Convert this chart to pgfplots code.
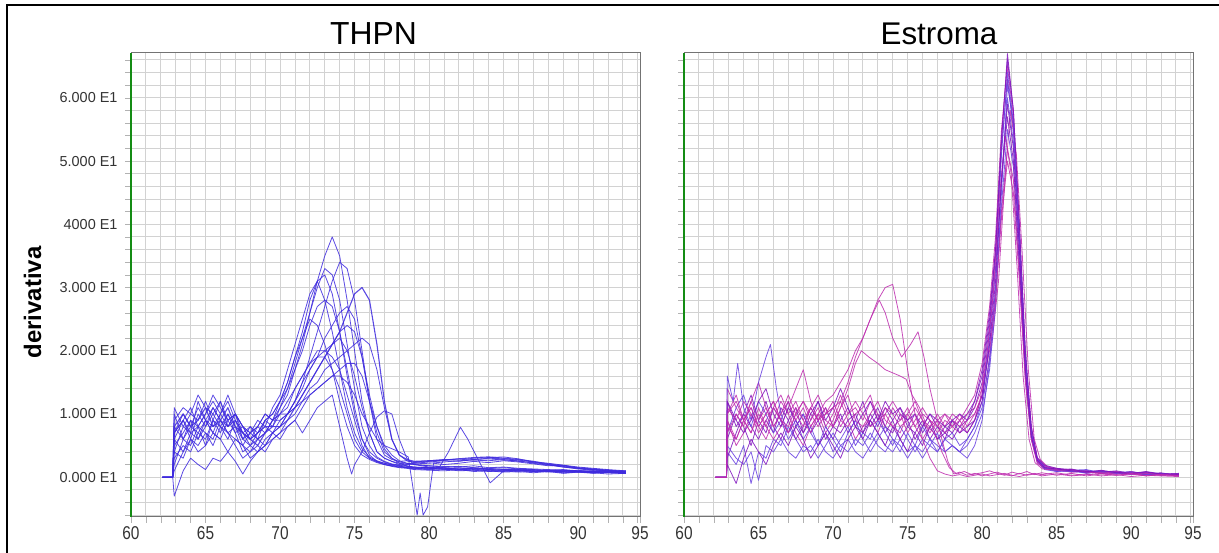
\documentclass[border=0pt]{standalone}
\usepackage{fontspec}
\setmainfont{Liberation Sans}
\usepackage{pgfplots}
\pgfplotsset{compat=1.18}
\definecolor{thpn}{RGB}{62,42,222}
\definecolor{purp}{RGB}{128,20,190}
\definecolor{mag}{RGB}{190,45,175}
\definecolor{bviol}{RGB}{105,65,225}
\definecolor{gridc}{RGB}{210,210,210}
\definecolor{axc}{RGB}{115,115,115}
\definecolor{greenax}{RGB}{20,140,20}
\pgfplotsset{
  meltaxis/.style={
    scale only axis, width=509bp, height=464bp,
    xmin=60, xmax=94.15, ymin=-6.3, ymax=67.1, clip=false,
    xtick={60,65,70,75,80,85,90,94.15},
    xticklabels={\scalebox{1}[1.2]{60},\scalebox{1}[1.2]{65},\scalebox{1}[1.2]{70},\scalebox{1}[1.2]{75},\scalebox{1}[1.2]{80},\scalebox{1}[1.2]{85},\scalebox{1}[1.2]{90},\scalebox{1}[1.2]{95}},
    minor xtick={61,62,...,94},
    ytick={0,10,...,60},
    minor ytick={-6,-4,...,66},
    grid=both,
    major grid style={draw=gridc, line width=0.9bp},
    minor grid style={draw=gridc, line width=0.9bp},
    axis line style={draw=axc, line width=1bp},
    tick pos=left, tick align=outside,
    major tick length=6bp, minor tick length=6bp,
    tick style={draw=black!30, line width=0.6bp},
    xticklabel style={font=\fontsize{15.5}{17}\selectfont, text=black!80},
    yticklabel style={font=\fontsize{14.5}{16}\selectfont, text=black!80, xshift=-4bp},
    every axis plot/.append style={line width=0.8bp, line join=round, draw opacity=0.85, mark=none},
  }
}
\begin{document}
\begin{tikzpicture}[x=1bp,y=1bp]
\useasboundingbox (0,0) rectangle (1219,553);
\draw[line width=2bp] (7,-5) -- (7,548) -- (1230,548);
\begin{axis}[meltaxis, at={(131bp,36bp)}, anchor=south west,
  yticklabels={0.000 E1,1.000 E1,2.000 E1,3.000 E1,4000 E1,5.000 E1,6.000 E1}]
\pgfplotsset{cycle list={{thpn}}}
\addplot coordinates {(62.1,0)(62.8,0)(62.9,7)(63.5,9)(64,6)(64.5,10)(65,8)(65.5,11)(66,9)(66.5,7)(67,8)(67.5,5)(68,7)(68.5,6)(69,9)(69.5,8)(70,11)(70.5,13)(71,17)(71.5,21)(72,26)(72.5,31)(73,35)(73.5,38)(74,35)(74.5,28)(75,20)(75.5,12)(76,7)(76.5,4)(77,3)(77.5,2.5)(78,2)(78.5,1.8)(79,1.5)(80,1.4)(81,1.2)(82,1.3)(83,1.1)(84,1.2)(85,1.0)(86,1.1)(87,0.9)(88,1.0)(89,0.8)(90,0.9)(91,0.7)(92,0.8)(93.2,0.6)};
\addplot coordinates {(62.1,0)(62.8,0)(62.9,4)(63.5,8)(64,7)(64.5,12)(65,9)(65.5,7)(66,10)(66.5,12)(67,9)(67.5,6)(68,5)(68.5,7)(69,8)(69.5,7)(70,9)(70.5,10)(71,12)(71.5,15)(72,19)(72.5,23)(73,27)(73.5,31)(74,34)(74.5,33)(75,28)(75.5,20)(76,12)(76.5,6)(77,3.5)(77.5,2.8)(78,2.5)(78.5,2.6)(79,2.4)(80,2.6)(81,2.8)(82,2.7)(83,3.0)(84,3.1)(85,3.2)(86,2.9)(87,2.4)(88,2.0)(89,1.6)(90,1.4)(91,1.2)(92,1.0)(93.2,0.8)};
\addplot coordinates {(62.1,0)(62.8,0)(62.9,10)(63.5,6)(64,9)(64.5,8)(65,5)(65.5,9)(66,12)(66.5,8)(67,10)(67.5,7)(68,6)(68.5,8)(69,10)(69.5,9)(70,12)(70.5,15)(71,19)(71.5,23)(72,28)(72.5,31)(73,32)(73.5,29)(74,23)(74.5,16)(75,10)(75.5,6)(76,4)(76.5,3)(77,2.4)(77.5,2)(78,1.8)(78.5,1.5)(79,1.4)(80,1.3)(81,1.5)(82,1.2)(83,1.3)(84,1.0)(85,1.2)(86,1.1)(87,0.9)(88,1.1)(89,0.9)(90,0.8)(91,1.0)(92,0.7)(93.2,0.6)};
\addplot coordinates {(62.1,0)(62.8,0)(62.9,3)(63.5,5)(64,4)(64.5,7)(65,6)(65.5,9)(66,7)(66.5,10)(67,8)(67.5,6)(68,7)(68.5,9)(69,8)(69.5,11)(70,13)(70.5,17)(71,21)(71.5,25)(72,29)(72.5,31)(73,28)(73.5,23)(74,17)(74.5,11)(75,7)(75.5,4.5)(76,3.2)(76.5,2.6)(77,2.2)(77.5,1.9)(78,1.7)(78.5,1.6)(79,1.5)(80,1.4)(81,1.3)(82,1.1)(83,1.2)(84,1.0)(85,0.9)(86,1.1)(87,1.0)(88,0.8)(89,1.0)(90,0.9)(91,0.7)(92,0.9)(93.2,0.7)};
\addplot+[line width=1.1bp] coordinates {(62.1,0)(62.8,0)(62.9,8)(63.5,10)(64,8)(64.5,9)(65,11)(65.5,8)(66,9)(66.5,11)(67,8)(67.5,7)(68,6)(68.5,5)(69,7)(69.5,8)(70,8)(70.5,9)(71,11)(71.5,13)(72,15)(72.5,17)(73,19)(73.5,21)(74,23)(74.5,26)(75,29)(75.5,30)(76,28)(76.5,21)(77,12)(77.5,6)(78,3.5)(78.5,2.8)(79,2.5)(80,2.6)(81,2.7)(82,2.9)(83,3.1)(84,3.2)(85,3.0)(86,2.8)(87,2.5)(88,2.1)(89,1.8)(90,1.5)(91,1.3)(92,1.1)(93.2,0.9)};
\addplot coordinates {(62.1,0)(62.8,0)(62.9,6)(63.5,4)(64,7)(64.5,6)(65,9)(65.5,7)(66,6)(66.5,9)(67,7)(67.5,4)(68,5)(68.5,6)(69,5)(69.5,7)(70,8)(70.5,10)(71,12)(71.5,14)(72,17)(72.5,19)(73,22)(73.5,24)(74,26)(74.5,27)(75,25)(75.5,19)(76,12)(76.5,7)(77,4)(77.5,3)(78,2.4)(78.5,2.2)(79,2.0)(80,1.8)(81,1.7)(82,1.6)(83,1.8)(84,1.5)(85,1.6)(86,1.4)(87,1.3)(88,1.2)(89,1.1)(90,1.0)(91,1.0)(92,0.8)(93.2,0.8)};
\addplot coordinates {(62.1,0)(62.8,0)(62.9,9)(63.5,11)(64,10)(64.5,13)(65,11)(65.5,10)(66,12)(66.5,9)(67,10)(67.5,8)(68,6)(68.5,7)(69,9)(69.5,10)(70,12)(70.5,15)(71,19)(71.5,22)(72,25)(72.5,24)(73,21)(73.5,17)(74,12)(74.5,8)(75,5)(75.5,3.5)(76,2.8)(76.5,2.3)(77,2)(77.5,1.8)(78,1.6)(78.5,1.5)(79,1.3)(80,1.2)(81,1.3)(82,1.0)(83,1.1)(84,0.9)(85,1.0)(86,0.8)(87,1.0)(88,0.9)(89,0.7)(90,0.8)(91,0.6)(92,0.8)(93.2,0.6)};
\addplot coordinates {(62.1,0)(62.8,0)(62.9,5)(63.5,7)(64,9)(64.5,6)(65,8)(65.5,10)(66,8)(66.5,6)(67,9)(67.5,7)(68,5)(68.5,4)(69,6)(69.5,7)(70,8)(70.5,10)(71,12)(71.5,15)(72,17)(72.5,19)(73,20)(73.5,21)(74,22)(74.5,20)(75,16)(75.5,11)(76,7)(76.5,4)(77,3)(77.5,2.5)(78,2.2)(78.5,2.1)(79,2.2)(80,2.4)(81,2.6)(82,2.5)(83,2.8)(84,2.9)(85,2.7)(86,2.6)(87,2.2)(88,1.9)(89,1.6)(90,1.3)(91,1.1)(92,1.0)(93.2,0.8)};
\addplot coordinates {(62.1,0)(62.8,0)(62.9,2)(63.5,6)(64,5)(64.5,8)(65,7)(65.5,5)(66,8)(66.5,7)(67,5)(67.5,3)(68,4)(68.5,6)(69,7)(69.5,9)(70,10)(70.5,11)(71,14)(71.5,16)(72,18)(72.5,20)(73,20)(73.5,19)(74,17)(74.5,13)(75,9)(75.5,5)(76,3)(76.5,2.4)(77,2)(77.5,1.7)(78,1.5)(78.5,1.4)(79,1.2)(80,1.1)(81,1.0)(82,1.2)(83,0.9)(84,1.0)(85,0.8)(86,0.9)(87,0.7)(88,0.9)(89,0.6)(90,0.8)(91,0.7)(92,0.5)(93.2,0.6)};
\addplot coordinates {(62.1,0)(62.8,0)(62.9,7)(63.5,9)(64,7)(64.5,8)(65,10)(65.5,12)(66,10)(66.5,8)(67,9)(67.5,7)(68,8)(68.5,6)(69,7)(69.5,9)(70,9)(70.5,10)(71,11)(71.5,13)(72,15)(72.5,17)(73,19)(73.5,21)(74,23)(74.5,24)(75,23)(75.5,19)(76,13)(76.5,8)(77,4.5)(77.5,3)(78,2.2)(78.5,1.8)(79,1.6)(80,1.5)(81,1.4)(82,1.3)(83,1.5)(84,1.2)(85,1.3)(86,1.1)(87,1.2)(88,1.0)(89,0.9)(90,1.1)(91,0.8)(92,0.9)(93.2,0.8)};
\addplot coordinates {(62.1,0)(62.8,0)(62.9,11)(63.5,8)(64,10)(64.5,9)(65,12)(65.5,9)(66,8)(66.5,10)(67,7)(67.5,8)(68,6)(68.5,7)(69,8)(69.5,8)(70,10)(70.5,12)(71,14)(71.5,16)(72,18)(72.5,19)(73,19)(73.5,17)(74,14)(74.5,10)(75,6)(75.5,4)(76,3)(76.5,2.5)(77,2.2)(77.5,2)(78,1.9)(78.5,2)(79,2.1)(80,2.2)(81,2.4)(82,2.6)(83,2.7)(84,2.6)(85,2.8)(86,2.5)(87,2.3)(88,2.0)(89,1.7)(90,1.4)(91,1.2)(92,1.1)(93.2,0.8)};
\addplot coordinates {(62.1,0)(62.8,0)(62.9,4)(63.5,3)(64,6)(64.5,5)(65,7)(65.5,6)(66,9)(66.5,7)(67,6)(67.5,5)(68,3)(68.5,4)(69,5)(69.5,6)(70,7)(70.5,8)(71,9)(71.5,11)(72,13)(72.5,14)(73,15)(73.5,16)(74,17)(74.5,18)(75,18)(75.5,16)(76,12)(76.5,8)(77,5)(77.5,3.5)(78,2.6)(78.5,2.2)(79,2.0)(80,1.8)(81,1.6)(82,1.7)(83,1.5)(84,1.4)(85,1.5)(86,1.3)(87,1.2)(88,1.1)(89,1.2)(90,1.0)(91,0.9)(92,0.8)(93.2,0.8)};
\addplot coordinates {(62.1,0)(62.8,0)(62.9,-3)(63.2,-1)(63.5,1)(64,3)(64.5,2)(65,1.2)(65.5,3)(66,2.5)(66.5,4)(67,2.5)(67.5,0.5)(68,2.5)(68.5,4)(69,5)(69.5,7)(70,6)(70.5,8)(71,9)(71.5,7)(72,9)(72.5,11)(73,12)(73.5,13)(74,8)(74.5,3)(74.8,0.5)(75,2)(75.5,4)(76,7)(76.5,9.5)(77,10.5)(77.5,10)(78,6)(78.5,3)(79,2)(80,1.6)(81,1.5)(82,1.3)(83,1.4)(84,1.2)(85,1.1)(86,1.2)(87,1.0)(88,0.9)(89,1.1)(90,0.8)(91,0.9)(92,0.7)(93.2,0.7)};
\addplot coordinates {(62.1,0)(62.8,0)(62.9,1)(63.5,4)(64,6)(64.5,4)(65,5)(65.5,7)(66,6)(66.5,4)(67,6)(67.5,5)(68,4)(68.5,5)(69,4)(69.5,6)(70,7)(70.5,9)(71,10)(71.5,12)(72,13)(72.5,14)(73,15)(73.5,16)(74,16)(74.5,15)(75,13)(75.5,10)(76,8)(76.5,6)(77,5)(77.5,4.5)(78,4)(78.6,3.2)(79.2,-6)(79.4,-2.5)(79.6,-6)(79.9,-4.7)(80.3,2.2)(81,2.0)(82,2.2)(83,2.5)(84,2.3)(85,2.6)(86,2.4)(87,2.1)(88,1.8)(89,1.9)(90,1.4)(91,1.2)(92,1.0)(93.2,1.0)};
\addplot coordinates {(62.1,0)(62.8,0)(62.9,6)(63.5,9)(64,11)(64.5,8)(65,10)(65.5,13)(66,11)(66.5,9)(67,10)(67.5,8)(68,7)(68.5,8)(69,10)(69.5,9)(70,11)(70.5,14)(71,17)(71.5,20)(72,24)(72.5,27)(73,28)(73.5,27)(74,23)(74.5,17)(75,11)(75.5,6)(76,3.5)(76.5,2.5)(77,2)(77.5,1.8)(78,1.6)(78.5,1.5)(79,1.4)(80,1.5)(80.7,1.6)(81.3,4)(82.1,7.9)(82.6,6)(83.2,3.2)(84.1,-0.9)(85,1.0)(86,1.2)(87,0.9)(88,1.1)(89,0.8)(90,0.9)(91,0.7)(92,0.8)(93.2,0.7)};
\addplot coordinates {(62.1,0)(62.8,0)(62.9,8)(63.5,6)(64,8)(64.5,11)(65,9)(65.5,8)(66,10)(66.5,13)(67,10)(67.5,8)(68,7)(68.5,8)(69,7)(69.5,9)(70,10)(70.5,10)(71,11)(71.5,12)(72,14)(72.5,15)(73,17)(73.5,18)(74,19)(74.5,20)(75,21)(75.5,22)(76,21)(76.5,17)(77,11)(77.5,6)(78,3.5)(78.5,2.6)(79,2.3)(80,2.5)(81,2.7)(82,2.9)(83,2.8)(84,3.0)(85,2.9)(86,2.7)(87,2.4)(88,2.2)(89,1.9)(90,1.6)(91,1.4)(92,1.2)(93.2,1.0)};
\addplot coordinates {(62.1,0)(62.8,0)(62.9,7)(63.5,10)(64,8)(64.5,7)(65,9)(65.5,11)(66,9)(66.5,8)(67,10)(67.5,6)(68,8)(68.5,7)(69,9)(69.5,10)(70,12)(70.5,14)(71,18)(71.5,22)(72,26)(72.5,30)(73,33)(73.5,32)(74,28)(74.5,21)(75,14)(75.5,8)(76,5)(76.5,3.2)(77,2.5)(77.5,2.1)(78,1.9)(78.5,1.7)(79,1.6)(80,1.5)(81,1.4)(82,1.5)(83,1.3)(84,1.4)(85,1.2)(86,1.3)(87,1.1)(88,1.0)(89,1.1)(90,0.9)(91,0.8)(92,0.9)(93.2,0.8)};
\draw[greenax, line width=2bp] (rel axis cs:0,0) -- (rel axis cs:0,1);
\end{axis}
\begin{axis}[meltaxis, at={(684bp,36bp)}, anchor=south west, yticklabels={}]
\addplot[purp] coordinates {(62.1,0)(62.85,0)(62.9,12)(63.5,8)(64,10)(64.5,13)(65,9)(65.5,7)(66,11)(66.5,9)(67,12)(67.5,8)(68,10)(68.5,7)(69,9)(69.5,11)(70,8)(70.5,10)(71,7)(71.5,9)(72,12)(72.5,8)(73,10)(73.5,7)(74,9)(74.5,11)(75,8)(75.5,7)(76,9)(76.5,6)(77,8)(77.5,7)(78,9)(78.5,8)(79,9)(79.5,11)(80,15)(80.5,24)(80.9,35)(81.3,53)(81.7,67)(82.1,58)(82.5,40)(82.9,20)(83.3,8)(83.7,3)(84.2,1.8)(85,1.2)(86,1.0)(87,0.8)(88,0.9)(89,0.6)(90,0.7)(91,0.4)(92,0.5)(93.2,0.3)};
\addplot[purp] coordinates {(62.1,0)(62.85,0)(62.9,6)(63.5,10)(64,8)(64.5,5)(65,9)(65.5,12)(66,8)(66.5,6)(67,9)(67.5,11)(68,7)(68.5,9)(69,12)(69.5,8)(70,6)(70.5,9)(71,11)(71.5,8)(72,7)(72.5,10)(73,8)(73.5,11)(74,9)(74.5,6)(75,8)(75.5,10)(76,7)(76.5,9)(77,6)(77.5,8)(78,7)(78.5,9)(79,10)(79.5,12)(80,17)(80.5,26)(80.9,36)(81.3,52)(81.7,63)(82.1,55)(82.5,37)(82.9,18)(83.3,7)(83.7,2.5)(84.2,1.5)(85,1.3)(86,0.9)(87,1.0)(88,0.7)(89,0.8)(90,0.5)(91,0.6)(92,0.3)(93.2,0.4)};
\addplot[mag] coordinates {(62.1,0)(62.85,0)(62.9,9)(63.5,5)(64,7)(64.5,10)(65,8)(65.5,6)(66,9)(66.5,12)(67,10)(67.5,7)(68,5)(68.5,8)(69,10)(69.5,7)(70,9)(70.5,12)(71,9)(71.5,6)(72,8)(72.5,9)(73,7)(73.5,10)(74,8)(74.5,9)(75,11)(75.5,8)(76,6)(76.5,8)(77,9)(77.5,7)(78,8)(78.5,10)(79,8)(79.5,10)(80.2,14)(80.7,22)(81.1,31)(81.5,46)(81.9,58)(82.3,51)(82.7,35)(83.1,17)(83.5,6)(83.9,2.8)(84.4,1.6)(85,1.0)(86,1.2)(87,0.7)(88,0.8)(89,0.5)(90,0.9)(91,0.4)(92,0.6)(93.2,0.2)};
\addplot[bviol] coordinates {(62.1,0)(62.85,0)(62.9,4)(63.5,2)(64,5)(64.5,-1)(65,4)(65.5,3)(66,6)(66.5,5)(67,8)(67.5,6)(68,4)(68.5,5)(69,3)(69.5,5)(70,7)(70.5,5)(71,4)(71.5,6)(72,5)(72.5,7)(73,5)(73.5,4)(74,6)(74.5,5)(75,3)(75.5,5)(76,4)(76.5,6)(77,5)(77.5,4)(78,5)(78.5,4)(79,6)(79.5,8)(80,11)(80.5,19)(80.9,28)(81.3,43)(81.7,55)(82.1,49)(82.5,33)(82.9,16)(83.3,6)(83.7,2.4)(84.2,1.2)(85,0.9)(86,1.1)(87,0.6)(88,0.9)(89,0.7)(90,0.4)(91,0.8)(92,0.5)(93.2,0.3)};
\addplot[mag] coordinates {(62.1,0)(62.85,0)(62.9,14)(63.5,11)(64,9)(64.5,12)(65,15)(65.5,11)(66,8)(66.5,10)(67,13)(67.5,10)(68,12)(68.5,9)(69,11)(69.5,8)(70,10)(70.5,13)(71,10)(71.5,11)(72,9)(72.5,12)(73,10)(73.5,8)(74,11)(74.5,9)(75,10)(75.5,8)(76,10)(76.5,9)(77,7)(77.5,9)(78,8)(78.5,7)(79,9)(79.5,10)(80,13)(80.5,21)(80.9,29)(81.3,42)(81.7,52)(82.1,47)(82.5,32)(82.9,16)(83.3,6)(83.7,2.2)(84.2,1.4)(85,1.1)(86,0.8)(87,0.9)(88,0.6)(89,0.8)(90,0.5)(91,0.4)(92,0.6)(93.2,0.3)};
\addplot[bviol] coordinates {(62.1,0)(62.85,0)(62.9,7)(63.5,11)(64,13)(64.5,9)(65,15)(65.5,19)(65.8,21)(66.2,14)(66.5,10)(67,7)(67.5,9)(68,6)(68.5,8)(69,5)(69.5,7)(70,4)(70.5,6)(71,8)(71.5,5)(72,7)(72.5,6)(73,9)(73.5,7)(74,5)(74.5,8)(75,6)(75.5,4)(76,6)(76.5,5)(77,7)(77.5,4)(78,5)(78.5,4)(79,3)(79.5,5)(80,9)(80.5,18)(80.9,30)(81.3,47)(81.7,60)(82.1,53)(82.5,36)(82.9,18)(83.3,7)(83.7,2.9)(84.2,1.5)(85,1.2)(86,0.9)(87,1.1)(88,0.6)(89,0.7)(90,0.9)(91,0.5)(92,0.4)(93.2,0.5)};
\addplot[mag] coordinates {(62.1,0)(62.85,0)(62.9,10)(63.5,13)(64,9)(64.5,11)(65,8)(65.5,10)(66,12)(66.5,9)(67,7)(67.5,10)(68,12)(68.5,10)(69,8)(69.5,10)(70,11)(70.5,8)(71,10)(71.5,12)(72,10)(72.5,8)(73,9)(73.5,11)(74,10)(74.5,8)(75,9)(75.5,11)(76,9)(76.5,8)(77,10)(77.5,8)(78,10)(78.5,9)(79,11)(79.5,13)(80,18)(80.5,27)(80.9,38)(81.3,55)(81.7,65)(82.1,57)(82.5,39)(82.9,19)(83.3,7.5)(83.7,3)(84.2,1.7)(85,1.4)(86,1.0)(87,0.8)(88,1.0)(89,0.6)(90,0.8)(91,0.5)(92,0.6)(93.2,0.4)};
\addplot[purp] coordinates {(62.1,0)(62.85,0)(62.9,3)(63.5,7)(64,10)(64.5,8)(65,6)(65.5,9)(66,7)(66.5,11)(67,9)(67.5,6)(68,8)(68.5,11)(69,9)(69.5,6)(70,8)(70.5,7)(71,9)(71.5,10)(72,7)(72.5,9)(73,11)(73.5,8)(74,7)(74.5,10)(75,9)(75.5,6)(76,8)(76.5,10)(77,8)(77.5,6)(78,9)(78.5,7)(79,8)(79.5,9)(80,13)(80.5,23)(80.9,33)(81.3,47)(81.7,57)(82.1,50)(82.5,34)(82.9,17)(83.3,6.5)(83.7,2.6)(84.2,1.3)(85,1.1)(86,1.3)(87,0.7)(88,0.8)(89,1.0)(90,0.6)(91,0.5)(92,0.7)(93.2,0.2)};
\addplot[bviol] coordinates {(62.1,0)(62.85,0)(62.9,5)(63.5,3)(64,2)(64.5,4)(65,-0.5)(65.5,5)(66,4)(66.5,6)(67,4)(67.5,3)(68,5)(68.5,4)(69,6)(69.5,4)(70,3)(70.5,5)(71,6)(71.5,4)(72,3)(72.5,5)(73,7)(73.5,5)(74,4)(74.5,6)(75,4)(75.5,5)(76,3)(76.5,5)(77,4)(77.5,6)(78,5)(78.5,4)(79,5)(79.5,7)(80,10)(80.5,17)(80.9,27)(81.3,45)(81.7,62)(82.1,56)(82.5,38)(82.9,19)(83.3,7)(83.7,2.7)(84.2,1.4)(85,0.9)(86,1.1)(87,1.2)(88,0.7)(89,0.9)(90,0.6)(91,0.7)(92,0.4)(93.2,0.5)};
\addplot[mag] coordinates {(62.1,0)(62.85,0)(62.9,11)(63.5,9)(64,12)(64.5,10)(65,7)(65.5,9)(66,11)(66.5,13)(67,10)(67.5,12)(68,9)(68.5,11)(69,13)(69.5,10)(70,12)(70.5,9)(71,8)(71.5,10)(72,11)(72.5,13)(73,9)(73.5,10)(74,12)(74.5,10)(75,7)(75.5,9)(76,11)(76.5,9)(77,8)(77.5,10)(78,9)(78.5,8)(79,10)(79.5,11)(80,14)(80.5,20)(80.9,28)(81.3,41)(81.7,50)(82.1,45)(82.5,31)(82.9,15)(83.3,6)(83.7,2.5)(84.2,1.5)(85,1.2)(86,0.8)(87,1.0)(88,0.7)(89,0.5)(90,0.8)(91,0.6)(92,0.3)(93.2,0.4)};
\addplot[bviol] coordinates {(62.1,0)(62.85,0)(62.9,16)(63.3,12)(63.6,18)(64,11)(64.5,8)(65,12)(65.5,10)(66,7)(66.5,9)(67,6)(67.5,8)(68,10)(68.5,7)(69,5)(69.5,8)(70,6)(70.5,4)(71,7)(71.5,9)(72,6)(72.5,4)(73,6)(73.5,8)(74,6)(74.5,4)(75,7)(75.5,5)(76,8)(76.5,6)(77,4)(77.5,6)(78,7)(78.5,5)(79,6)(79.5,8)(80,12)(80.5,22)(80.9,33)(81.3,51)(81.7,64)(82.1,56)(82.5,38)(82.9,19)(83.3,7)(83.7,2.8)(84.2,1.6)(85,1.0)(86,0.9)(87,0.7)(88,1.0)(89,0.6)(90,0.7)(91,0.4)(92,0.6)(93.2,0.3)};
\addplot[mag] coordinates {(62.1,0)(62.85,0)(62.9,8)(63.5,6)(64,9)(64.5,7)(65,11)(65.5,8)(66,6)(66.5,8)(67,11)(67.5,14)(68,17)(68.5,12)(69,9)(69.5,11)(70,8)(70.5,11)(71,13)(71.5,9)(72,8)(72.5,10)(73,12)(73.5,9)(74,8)(74.5,7)(75,10)(75.5,12)(76,9)(76.5,7)(77,9)(77.5,10)(78,8)(78.5,9)(79,7)(79.5,9)(79.85,12)(80.35,20)(80.75,29)(81.15,44)(81.55,54)(81.95,48)(82.35,33)(82.75,16)(83.15,6)(83.55,2.3)(84.05,1.3)(85,1.1)(86,1.2)(87,0.8)(88,0.6)(89,0.9)(90,0.5)(91,0.7)(92,0.4)(93.2,0.3)};
\addplot[purp] coordinates {(62.1,0)(62.85,0)(62.9,2)(63.5,-1)(64,3)(64.5,6)(65,4)(65.5,2)(66,5)(66.5,7)(67,5)(67.5,8)(68,6)(68.5,3)(69,5)(69.5,7)(70,5)(70.5,3)(71,6)(71.5,8)(72,6)(72.5,9)(73,7)(73.5,5)(74,8)(74.5,6)(75,4)(75.5,7)(76,5)(76.5,8)(77,6)(77.5,7)(78,6)(78.5,8)(79,7)(79.5,9)(80,12)(80.5,21)(80.9,31)(81.3,47)(81.7,59)(82.1,52)(82.5,36)(82.9,17)(83.3,6.5)(83.7,2.7)(84.2,1.5)(85,1.3)(86,1.0)(87,0.8)(88,1.1)(89,0.7)(90,0.6)(91,0.8)(92,0.5)(93.2,0.4)};
\addplot[purp] coordinates {(62.1,0)(62.85,0)(62.9,12)(63.5,9)(64,7)(64.5,9)(65,12)(65.5,14)(66,10)(66.5,8)(67,11)(67.5,9)(68,7)(68.5,10)(69,12)(69.5,9)(70,11)(70.5,14)(71,11)(71.5,8)(72,10)(72.5,12)(73,9)(73.5,12)(74,10)(74.5,11)(75,9)(75.5,10)(76,8)(76.5,10)(77,9)(77.5,8)(78,9)(78.5,10)(79,9)(79.5,12)(80,16)(80.5,25)(80.9,36)(81.3,54)(81.7,66)(82.1,58)(82.5,40)(82.9,20)(83.3,8)(83.7,3.1)(84.2,1.9)(85,1.4)(86,1.2)(87,0.9)(88,1.0)(89,0.8)(90,0.6)(91,0.9)(92,0.5)(93.2,0.6)};
\addplot[mag] coordinates {(62.1,0)(62.85,0)(62.9,7)(63.5,10)(64,8)(64.5,12)(65,9)(65.5,11)(66,8)(66.5,10)(67,12)(67.5,9)(68,11)(68.5,8)(69,10)(69.5,12)(70,13)(70.5,15)(71,17)(71.5,20)(72,22)(72.5,25)(73,28)(73.5,30)(74,30.5)(74.5,25)(75,17)(75.5,10)(76,6)(76.5,3)(77,1)(77.5,0.5)(78,0.2)(78.5,0.4)(79,0.1)(79.5,0.3)(80,0.5)(80.5,0.2)(81,0.4)(81.5,0.6)(82,0.3)(82.5,0.1)(83,0.4)(83.5,0.6)(84,0.4)(85,0.7)(86,0.3)(87,0.5)(88,0.2)(89,0.4)(90,0.1)(91,0.3)(92,0.2)(93.2,0.1)};
\addplot[mag] coordinates {(62.1,0)(62.85,0)(62.9,9)(63.5,6)(64,9)(64.5,11)(65,8)(65.5,10)(66,12)(66.5,9)(67,7)(67.5,10)(68,8)(68.5,11)(69,9)(69.5,10)(70,11)(70.5,12)(71,15)(71.5,19)(72,22)(72.5,25)(73.1,28)(73.5,26)(74,22)(74.6,19)(75.2,21)(75.7,23)(76.1,19)(76.5,14)(76.9,10)(77.3,6)(77.7,2.5)(78.1,0.5)(78.5,0.8)(79,0.3)(79.5,0.6)(80,0.2)(80.5,0.5)(81,0.8)(81.5,0.4)(82,0.2)(82.5,0.6)(83,0.3)(83.5,0.5)(84,0.2)(85,0.5)(86,0.2)(87,0.4)(88,0.6)(89,0.3)(90,0.5)(91,0.2)(92,0.4)(93.2,0.3)};
\addplot[mag] coordinates {(62.1,0)(62.85,0)(62.9,10)(63.5,12)(64,9)(64.5,7)(65,10)(65.5,8)(66,11)(66.5,9)(67,8)(67.5,11)(68,9)(68.5,7)(69,10)(69.5,9)(70,8)(70.5,11)(71,14)(71.5,18)(71.9,20)(72.4,19)(73,18)(73.5,17)(74,16.5)(74.5,16)(74.9,15.5)(75.3,13)(75.8,11)(76.3,8)(76.8,7)(77.3,4)(77.8,1.5)(78.3,0.5)(78.8,0.9)(79.3,0.4)(80,0.7)(80.5,1.0)(81,0.6)(81.5,0.3)(82,0.8)(82.5,0.5)(83,0.9)(83.5,0.4)(84,0.7)(85,0.3)(86,0.6)(87,0.2)(88,0.5)(89,0.3)(90,0.6)(91,0.2)(92,0.4)(93.2,0.2)};
\draw[greenax, line width=2bp] (rel axis cs:0,0) -- (rel axis cs:0,1);
\end{axis}
\node[font=\fontsize{32}{36}\selectfont, inner sep=0pt] at (373.5,519.5) {THPN};
\node[font=\fontsize{31.5}{36}\selectfont, inner sep=0pt] at (939,519.5) {Estroma};
\node[rotate=90, font=\bfseries\fontsize{24}{26}\selectfont, inner sep=0pt] at (32.5,250.5) {derivativa};
\end{tikzpicture}
\end{document}
